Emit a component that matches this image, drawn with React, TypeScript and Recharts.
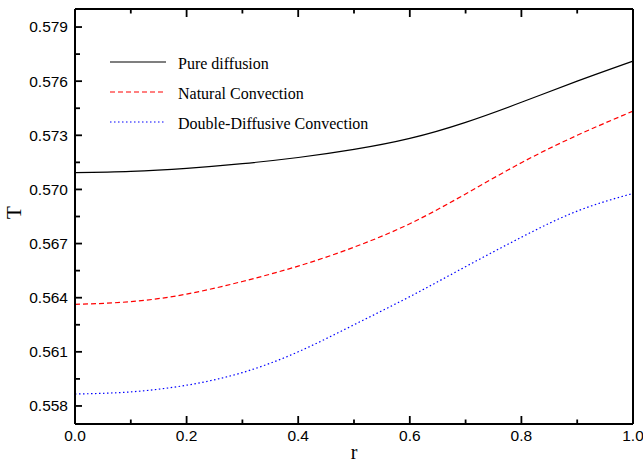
import React from 'react';
import { LineChart, Line, XAxis, YAxis, Legend } from 'recharts';

const rValues = [0, 0.1, 0.2, 0.3, 0.4, 0.5, 0.6, 0.7, 0.8, 0.9, 1.0];
const pureDiffusion = [0.57093, 0.57100, 0.57117, 0.57143, 0.57177, 0.57222, 0.57283, 0.57372, 0.57483, 0.57600, 0.57711];
const naturalConvection = [0.56363, 0.56378, 0.56420, 0.56490, 0.56575, 0.56680, 0.56810, 0.56975, 0.57148, 0.57300, 0.57434];
const doubleDiffusive = [0.55866, 0.55878, 0.55915, 0.55985, 0.56100, 0.56250, 0.56406, 0.56572, 0.56735, 0.56880, 0.56978];

const xTicks = [0, 0.1, 0.2, 0.3, 0.4, 0.5, 0.6, 0.7, 0.8, 0.9, 1.0];
const yTicks = [0.558, 0.5595, 0.561, 0.5625, 0.564, 0.5655, 0.567, 0.5685, 0.570, 0.5715, 0.573, 0.5745, 0.576, 0.5775, 0.579];

const series = [
  { key: 'pure', name: 'Pure diffusion', color: '#000000', dash: undefined as string | undefined },
  { key: 'natural', name: 'Natural Convection', color: '#ff0000', dash: '5 3' },
  { key: 'double', name: 'Double-Diffusive Convection', color: '#0000ff', dash: '1.5 2.5' },
];

const rows = rValues.map((r, i) => ({ r, pure: pureDiffusion[i], natural: naturalConvection[i], double: doubleDiffusive[i] }));

const sans = '"Liberation Sans", Arial, Helvetica, sans-serif';
const serif = '"Liberation Serif", "Times New Roman", serif';

const isMajorX = (v: number) => Math.round(v * 10) % 2 === 0;
const isMajorY = (v: number) => Math.round((v - 0.558) / 0.0015) % 2 === 0;

// tick marks point into the plot, like the original
function BottomTick(props: any) {
  const x = Number(props.x);
  const y = Number(props.y);
  const v = props.payload.value;
  const major = isMajorX(v);
  return (
    <g>
      <path d={`M${x},${y}V${y - (major ? 8 : 4.5)}`} stroke="#000" strokeWidth={1.8} fill="none" />
      {major && (
        <text x={x} y={y + 17} textAnchor="middle" fontFamily={sans} fontSize={15.5} fill="#000">
          {v.toFixed(1)}
        </text>
      )}
    </g>
  );
}

function TopTick(props: any) {
  const x = Number(props.x);
  const y = Number(props.y);
  const major = isMajorX(props.payload.value);
  return <path d={`M${x},${y}V${y + (major ? 8 : 4.5)}`} stroke="#000" strokeWidth={1.8} fill="none" />;
}

function LeftTick(props: any) {
  const x = Number(props.x);
  const y = Number(props.y);
  const v = props.payload.value;
  const major = isMajorY(v);
  return (
    <g>
      <path d={`M${x},${y}H${x + (major ? 7 : 5)}`} stroke="#000" strokeWidth={1.8} fill="none" />
      {major && (
        <text x={x - 7} y={y} dy="0.35em" textAnchor="end" fontFamily={sans} fontSize={15.5} fill="#000">
          {v.toFixed(3)}
        </text>
      )}
    </g>
  );
}

function RightTick(props: any) {
  const x = Number(props.x);
  const y = Number(props.y);
  const major = isMajorY(props.payload.value);
  return <path d={`M${x},${y}H${x - (major ? 7 : 5)}`} stroke="#000" strokeWidth={1.8} fill="none" />;
}

function LegendBox() {
  return (
    <div>
      {series.map((s) => (
        <div key={s.key} style={{ display: 'flex', alignItems: 'center', height: 30 }}>
          <svg width={56} height={10}>
            <line x1={0} y1={5} x2={56} y2={5} stroke={s.color} strokeWidth={1.2} strokeDasharray={s.dash} />
          </svg>
          <span style={{ marginLeft: 12, paddingTop: 3, fontFamily: serif, fontSize: 16, color: '#000', whiteSpace: 'nowrap' }}>{s.name}</span>
        </div>
      ))}
    </div>
  );
}

const axisLine = { stroke: '#000', strokeWidth: 2 };

export default function App() {
  return (
    <div style={{ position: 'absolute', left: 0, top: 0, background: '#fff' }}>
      <LineChart width={643} height={465} data={rows} margin={{ top: 8, right: 9, bottom: 40, left: 74 }}>
        <XAxis
          xAxisId="b"
          dataKey="r"
          type="number"
          domain={[0, 1]}
          ticks={xTicks}
          interval={0}
          height={1}
          tickSize={0}
          tickMargin={0}
          tickLine={false}
          axisLine={axisLine}
          tick={BottomTick}
          label={{
            content: (p: any) => {
              const vb = p.viewBox || {};
              return (
                <text x={vb.x + vb.width / 2} y={459} textAnchor="middle" fontFamily={serif} fontSize={20} fill="#000">
                  r
                </text>
              );
            },
          }}
        />
        <XAxis
          xAxisId="t"
          orientation="top"
          dataKey="r"
          type="number"
          domain={[0, 1]}
          ticks={xTicks}
          interval={0}
          height={1}
          tickSize={0}
          tickMargin={0}
          tickLine={false}
          axisLine={axisLine}
          tick={TopTick}
        />
        <YAxis
          yAxisId="l"
          type="number"
          domain={[0.557, 0.58]}
          ticks={yTicks}
          interval={0}
          width={1}
          tickSize={0}
          tickMargin={0}
          tickLine={false}
          axisLine={axisLine}
          tick={LeftTick}
          label={{
            content: (p: any) => {
              const vb = p.viewBox || {};
              const cy = vb.y + vb.height / 2 - 4;
              return (
                <text x={14} y={cy} transform={`rotate(-90 14 ${cy})`} textAnchor="middle" dominantBaseline="central" fontFamily={serif} fontSize={21} fill="#000">
                  T
                </text>
              );
            },
          }}
        />
        <YAxis
          yAxisId="rt"
          orientation="right"
          type="number"
          domain={[0.557, 0.58]}
          ticks={yTicks}
          interval={0}
          width={1}
          tickSize={0}
          tickMargin={0}
          tickLine={false}
          axisLine={axisLine}
          tick={RightTick}
        />
        {series.map((s) => (
          <Line
            key={s.key}
            xAxisId="b"
            yAxisId="l"
            type="natural"
            dataKey={s.key}
            name={s.name}
            stroke={s.color}
            strokeWidth={1.2}
            strokeDasharray={s.dash}
            dot={false}
            activeDot={false}
            isAnimationActive={false}
          />
        ))}
        <Legend layout="vertical" verticalAlign="middle" align="center" wrapperStyle={{ left: 110, top: 47, width: 280 }} content={LegendBox} />
      </LineChart>
    </div>
  );
}
